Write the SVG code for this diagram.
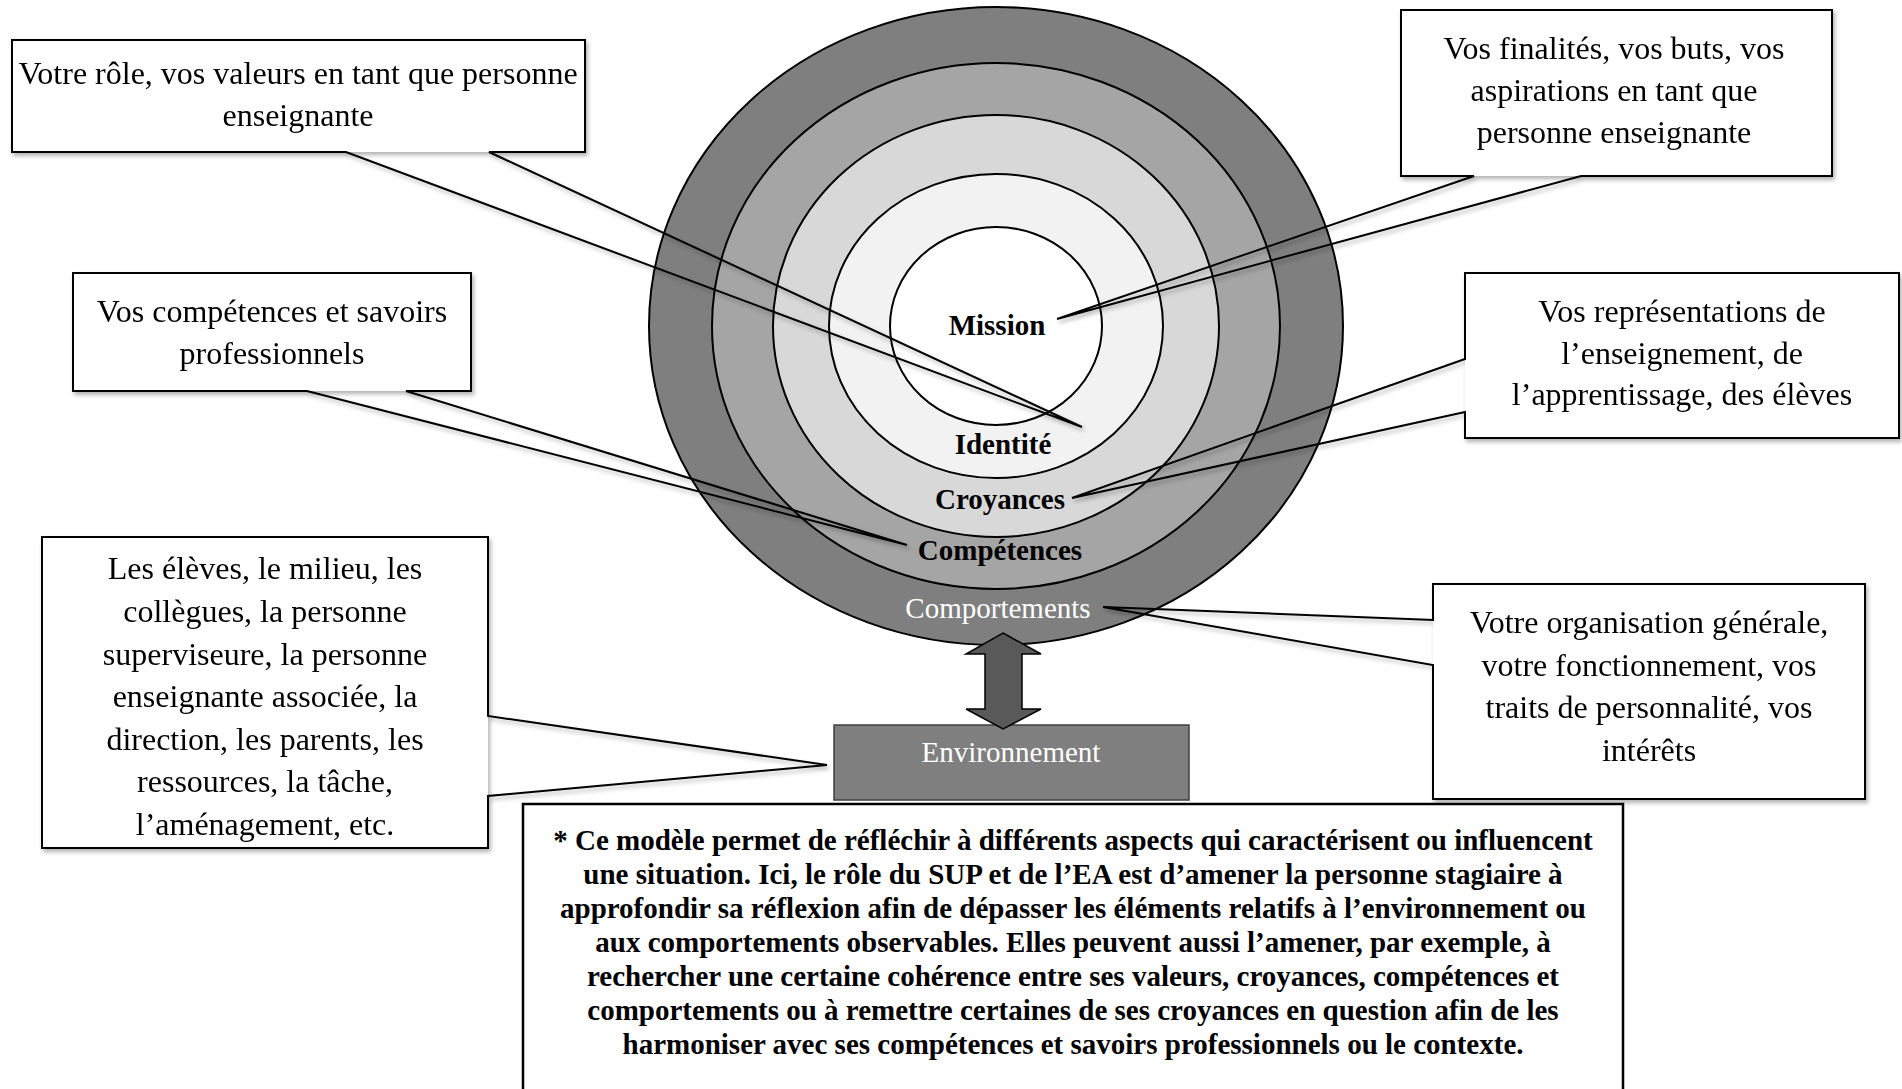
<svg xmlns="http://www.w3.org/2000/svg" width="1902" height="1089" viewBox="0 0 1902 1089">
<style>
.ring{stroke:#000;stroke-width:2}
.box{fill:#fff;stroke:none}
.outline{fill:none;stroke:#000;stroke-width:2;stroke-linejoin:miter}
.t{font-family:"Liberation Serif","Times New Roman",serif;font-size:32px;fill:#000;text-anchor:middle}
.lbl{font-family:"Liberation Serif","Times New Roman",serif;font-size:29px;font-weight:bold;fill:#000;text-anchor:middle}
.wl{font-family:"Liberation Serif","Times New Roman",serif;font-size:29px;fill:#fff;text-anchor:middle}
.note{font-family:"Liberation Serif","Times New Roman",serif;font-size:29px;font-weight:bold;fill:#000;text-anchor:middle}
</style>
<defs>
<filter id="sh" x="-10%" y="-10%" width="120%" height="130%">
<feDropShadow dx="2" dy="3" stdDeviation="2" flood-color="#000" flood-opacity="0.3"/>
</filter>
</defs>
<rect width="1902" height="1089" fill="#fff"/>

<g id="rings">
<ellipse class="ring" cx="996" cy="326" rx="347" ry="319" fill="#7f7f7f"/>
<ellipse class="ring" cx="996" cy="326" rx="284" ry="263" fill="#a5a5a5"/>
<ellipse class="ring" cx="996" cy="326" rx="223" ry="211" fill="#d8d8d8"/>
<ellipse class="ring" cx="996" cy="326" rx="167" ry="152" fill="#f2f2f2"/>
<ellipse class="ring" cx="996" cy="326" rx="106" ry="99" fill="#fff"/>
</g>

<g id="label-mission"><text class="lbl" x="997" y="335">Mission</text></g>
<g id="label-identite"><text class="lbl" x="1003" y="454">Identité</text></g>
<g id="label-croyances"><text class="lbl" x="1000" y="509">Croyances</text></g>
<g id="label-competences"><text class="lbl" x="1000" y="560">Compétences</text></g>
<g id="label-comportements"><text class="wl" x="998" y="618">Comportements</text></g>

<g id="environnement">
<rect x="834" y="725" width="355" height="75" fill="#7f7f7f" stroke="#3f3f3f" stroke-width="1.5"/>
<text class="wl" x="1011" y="762">Environnement</text>
</g>

<g id="connectors">
<path d="M1003,633 L1041,654 H1022 V709 H1041 L1003,729 L966,709 H985 V654 H966 Z" fill="#595959" stroke="#000" stroke-width="1.5" stroke-linejoin="miter"/>
</g>

<g id="callout-role" filter="url(#sh)">
<rect class="box" x="12" y="40" width="573" height="112"/>
<path class="outline" d="M12,40 H585 V152 H489 L1082,427 L346,152 H12 Z"/>
<text class="t" x="298" y="84">Votre rôle, vos valeurs en tant que personne</text>
<text class="t" x="298" y="126">enseignante</text>
</g>

<g id="callout-finalites" filter="url(#sh)">
<rect class="box" x="1401" y="10" width="431" height="166"/>
<path class="outline" d="M1401,10 H1832 V176 H1581 L1057,319 L1474,176 H1401 Z"/>
<text class="t" x="1614" y="59">Vos finalités, vos buts, vos</text>
<text class="t" x="1614" y="101">aspirations en tant que</text>
<text class="t" x="1614" y="143">personne enseignante</text>
</g>

<g id="callout-competences" filter="url(#sh)">
<rect class="box" x="73" y="273" width="398" height="118"/>
<path class="outline" d="M73,273 H471 V391 H406 L907,545 L307,391 H73 Z"/>
<text class="t" x="272" y="322">Vos compétences et savoirs</text>
<text class="t" x="272" y="364">professionnels</text>
</g>

<g id="callout-representations" filter="url(#sh)">
<rect class="box" x="1465" y="273" width="434" height="165"/>
<path class="outline" d="M1465,273 H1899 V438 H1465 V412 L1072,498 L1465,359 Z"/>
<text class="t" x="1682" y="322">Vos représentations de</text>
<text class="t" x="1682" y="364">l’enseignement, de</text>
<text class="t" x="1682" y="405">l’apprentissage, des élèves</text>
</g>

<g id="callout-eleves" filter="url(#sh)">
<rect class="box" x="42" y="537" width="446" height="311"/>
<path class="outline" d="M42,537 H488 V716 L827,765 L488,796 V848 H42 Z"/>
<text class="t" x="265" y="579">Les élèves, le milieu, les</text>
<text class="t" x="265" y="622">collègues, la personne</text>
<text class="t" x="265" y="665">superviseure, la personne</text>
<text class="t" x="265" y="707">enseignante associée, la</text>
<text class="t" x="265" y="750">direction, les parents, les</text>
<text class="t" x="265" y="792">ressources, la tâche,</text>
<text class="t" x="265" y="835">l’aménagement, etc.</text>
</g>

<g id="callout-organisation" filter="url(#sh)">
<rect class="box" x="1433" y="584" width="432" height="215"/>
<path class="outline" d="M1433,584 H1865 V799 H1433 V665 L1103,607 L1433,620 Z"/>
<text class="t" x="1649" y="633">Votre organisation générale,</text>
<text class="t" x="1649" y="676">votre fonctionnement, vos</text>
<text class="t" x="1649" y="718">traits de personnalité, vos</text>
<text class="t" x="1649" y="761">intérêts</text>
</g>

<g id="note">
<rect x="523" y="804" width="1100" height="300" fill="#fff" stroke="#000" stroke-width="2.5"/>
<text class="note" x="1073" y="850">* Ce modèle permet de réfléchir à différents aspects qui caractérisent ou influencent</text>
<text class="note" x="1073" y="884">une situation. Ici, le rôle du SUP et de l’EA est d’amener la personne stagiaire à</text>
<text class="note" x="1073" y="918">approfondir sa réflexion afin de dépasser les éléments relatifs à l’environnement ou</text>
<text class="note" x="1073" y="952">aux comportements observables. Elles peuvent aussi l’amener, par exemple, à</text>
<text class="note" x="1073" y="986">rechercher une certaine cohérence entre ses valeurs, croyances, compétences et</text>
<text class="note" x="1073" y="1020">comportements ou à remettre certaines de ses croyances en question afin de les</text>
<text class="note" x="1073" y="1054">harmoniser avec ses compétences et savoirs professionnels ou le contexte.</text>
</g>
</svg>
